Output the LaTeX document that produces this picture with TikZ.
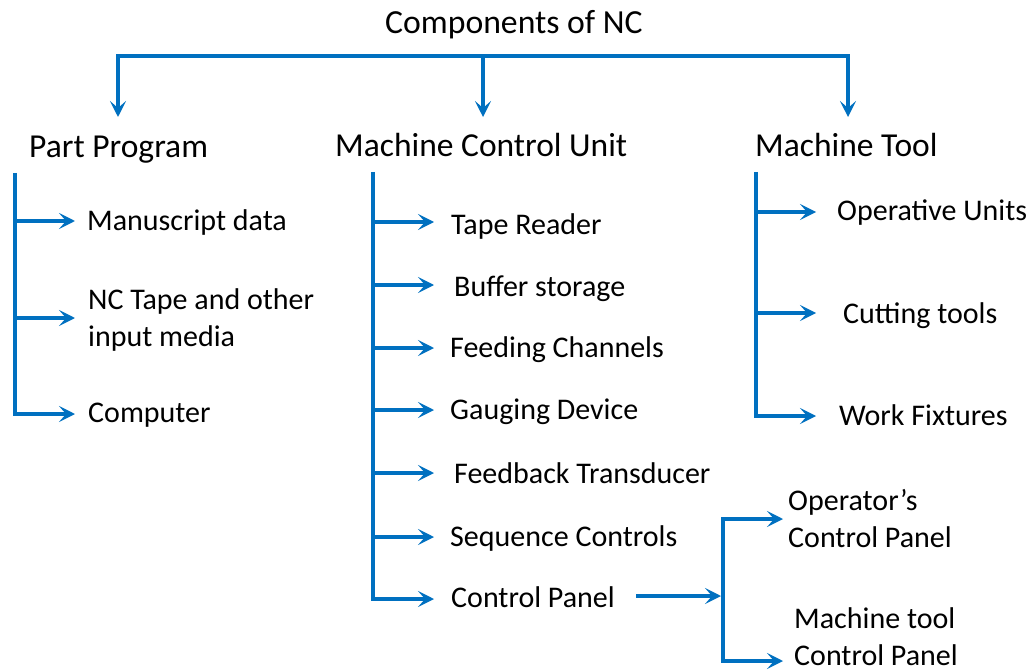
\documentclass[tikz,border=0pt]{standalone}
\usepackage{fontspec}
\setmainfont{Carlito}
\usetikzlibrary{arrows.meta}
\definecolor{nblue}{RGB}{0,112,192}
\begin{document}
\begin{tikzpicture}[x=1pt,y=-1pt,
  conn/.style={draw=nblue,line width=3.3pt},
  arr/.style={conn,-{Stealth[length=16pt,width=16pt,inset=7pt]}},
  ttl/.style={anchor=base west,inner sep=0pt,font=\fontsize{33.7}{40}\selectfont},
  head/.style={anchor=base west,inner sep=0pt,font=\fontsize{33.5}{40}\selectfont},
  item/.style={anchor=base west,inner sep=0pt,font=\fontsize{30}{36.5}\selectfont,align=left},
]
\useasboundingbox (0,0) rectangle (1033,671);
% title and heads
\node[ttl] (title) at (385,34) {Components of NC};
\node[head] (pp) at (29,158) {Part Program};
\node[head] (mcu) at (335,157) {Machine Control Unit};
\node[head] (mt) at (755,157) {Machine Tool};
% top bar
\coordinate (jC) at (483,56);
\coordinate (tL) at (118,117);
\coordinate (tC) at (483,117);
\coordinate (tR) at (848,117);
\draw[arr] (jC) -- (tC);
\draw[arr] (jC) -| (tL);
\draw[arr] (jC) -| (tR);
% Part Program items
\node[item] (pp1) at (87,230) {Manuscript data};
\node[item] (pp2) at (88,346) {NC Tape and other\\input media};
\node[item] (pp3) at (88,422) {Computer};
\coordinate (ppTop) at (15,173);
\foreach \y/\n in {221/1,318/2,414/3}{
  \coordinate (ppb\n) at (15,\y);
  \coordinate (ppt\n) at (75,\y);
}
\draw[arr] (ppTop) |- (ppt3);
\draw[arr] (ppb1) -- (ppt1);
\draw[arr] (ppb2) -- (ppt2);
% MCU items
\node[item] (mc1) at (451,234) {Tape Reader};
\node[item] (mc2) at (454,296) {Buffer storage};
\node[item] (mc3) at (450,357) {Feeding Channels};
\node[item] (mc4) at (450,419) {Gauging Device};
\node[item] (mc5) at (454,483) {Feedback Transducer};
\node[item] (mc6) at (450,546) {Sequence Controls};
\node[item] (mc7) at (451,607) {Control Panel};
\coordinate (mcTop) at (373,172);
\foreach \y/\n in {222/1,285/2,348/3,410/4,473/5,537/6,599/7}{
  \coordinate (mcb\n) at (373,\y);
  \coordinate (mct\n) at (434,\y);
}
\draw[arr] (mcTop) |- (mct7);
\foreach \n in {1,...,6}{\draw[arr] (mcb\n) -- (mct\n);}
% Machine Tool items
\node[item] (mt1) at (837,220) {Operative Units};
\node[item] (mt2) at (843,323) {Cutting tools};
\node[item] (mt3) at (839,425) {Work Fixtures};
\coordinate (mtTop) at (756,172);
\foreach \y/\n in {212/1,313/2,416/3}{
  \coordinate (mtb\n) at (756,\y);
  \coordinate (mtt\n) at (816,\y);
}
\draw[arr] (mtTop) |- (mtt3);
\draw[arr] (mtb1) -- (mtt1);
\draw[arr] (mtb2) -- (mtt2);
% Control panel split
\node[item] (op) at (788,547) {Operator’s\\Control Panel};
\node[item] (mtp) at (794,665) {Machine tool\\Control Panel};
\coordinate (cpS) at (636,596);
\coordinate (sM) at (723,596);
\coordinate (opT) at (783,519);
\coordinate (mtT) at (783,661);
\draw[arr] (cpS) -- ([xshift=-2pt]sM);
\draw[arr] (sM) |- (opT);
\draw[arr] (sM) |- (mtT);
\end{tikzpicture}
\end{document}
